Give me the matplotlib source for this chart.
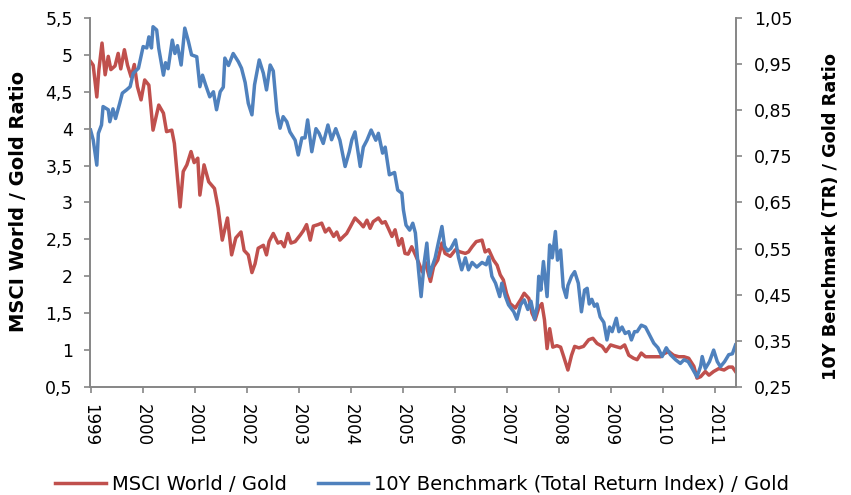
import numpy as np
import matplotlib
matplotlib.use("Agg")
import matplotlib.pyplot as plt

# MSCI World / Gold (left axis)
msci_t = [1999.00, 1999.05, 1999.12, 1999.16, 1999.22, 1999.28, 1999.34, 1999.39, 1999.47, 1999.53,
          1999.58, 1999.65, 1999.71, 1999.78, 1999.84, 1999.90, 1999.97, 2000.04, 2000.12, 2000.20,
          2000.27, 2000.31, 2000.40, 2000.46, 2000.56, 2000.61, 2000.72, 2000.78, 2000.85, 2000.93,
          2000.99, 2001.06, 2001.10, 2001.18, 2001.27, 2001.38, 2001.45, 2001.53, 2001.63, 2001.71,
          2001.79, 2001.89, 2001.95, 2002.03, 2002.10, 2002.16, 2002.22, 2002.32, 2002.38, 2002.43,
          2002.51, 2002.60, 2002.66, 2002.72, 2002.79, 2002.85, 2002.93, 2003.03, 2003.09, 2003.15,
          2003.22, 2003.28, 2003.37, 2003.44, 2003.51, 2003.58, 2003.67, 2003.73, 2003.79, 2003.86,
          2003.92, 2003.99, 2004.08, 2004.18, 2004.24, 2004.31, 2004.37, 2004.43, 2004.53, 2004.60,
          2004.66, 2004.72, 2004.79, 2004.85, 2004.92, 2004.98, 2005.04, 2005.10, 2005.17, 2005.24,
          2005.30, 2005.37, 2005.43, 2005.53, 2005.59, 2005.67, 2005.75, 2005.81, 2005.91, 2006.01,
          2006.10, 2006.20, 2006.26, 2006.33, 2006.41, 2006.52, 2006.58, 2006.65, 2006.74, 2006.81,
          2006.87, 2006.93, 2006.99, 2007.06, 2007.16, 2007.26, 2007.33, 2007.42, 2007.48, 2007.54,
          2007.61, 2007.67, 2007.72, 2007.77, 2007.82, 2007.88, 2007.96, 2008.03, 2008.09, 2008.17,
          2008.24, 2008.30, 2008.38, 2008.47, 2008.57, 2008.65, 2008.73, 2008.83, 2008.90, 2008.99,
          2009.08, 2009.18, 2009.26, 2009.34, 2009.43, 2009.50, 2009.58, 2009.66, 2009.76, 2009.85,
          2009.95, 2010.01, 2010.11, 2010.20, 2010.30, 2010.40, 2010.49, 2010.59, 2010.65, 2010.72,
          2010.81, 2010.88, 2010.97, 2011.07, 2011.17, 2011.26, 2011.33, 2011.39]
msci_v = [4.91, 4.86, 4.43, 4.80, 5.16, 4.73, 4.98, 4.80, 4.85, 5.02,
          4.81, 5.07, 4.86, 4.70, 4.87, 4.57, 4.39, 4.66, 4.59, 3.98,
          4.20, 4.32, 4.21, 3.96, 3.98, 3.80, 2.94, 3.42, 3.51, 3.69,
          3.54, 3.60, 3.10, 3.51, 3.28, 3.19, 2.93, 2.49, 2.79, 2.29,
          2.52, 2.60, 2.35, 2.29, 2.05, 2.17, 2.38, 2.42, 2.29, 2.47,
          2.58, 2.45, 2.47, 2.40, 2.58, 2.45, 2.47, 2.56, 2.62, 2.70,
          2.49, 2.68, 2.70, 2.72, 2.60, 2.65, 2.54, 2.60, 2.49, 2.54,
          2.58, 2.67, 2.79, 2.72, 2.67, 2.76, 2.65, 2.74, 2.79, 2.72,
          2.74, 2.65, 2.54, 2.63, 2.42, 2.51, 2.31, 2.30, 2.40, 2.29,
          2.19, 2.06, 2.19, 1.93, 2.13, 2.22, 2.45, 2.31, 2.27, 2.36,
          2.33, 2.31, 2.33, 2.40, 2.47, 2.49, 2.33, 2.36, 2.22, 2.15,
          2.02, 1.95, 1.77, 1.63, 1.57, 1.68, 1.77, 1.70, 1.50, 1.41,
          1.57, 1.63, 1.41, 1.02, 1.29, 1.04, 1.06, 1.04, 0.91, 0.73,
          0.93, 1.05, 1.03, 1.05, 1.14, 1.16, 1.09, 1.05, 0.98, 1.07,
          1.05, 1.03, 1.07, 0.93, 0.89, 0.87, 0.96, 0.91, 0.91, 0.91,
          0.91, 0.95, 0.98, 0.93, 0.91, 0.91, 0.89, 0.78, 0.62, 0.64,
          0.71, 0.66, 0.71, 0.75, 0.73, 0.77, 0.77, 0.71]

# 10Y Benchmark (TR) / Gold (right axis)
bench_t = [1999.00, 1999.05, 1999.12, 1999.15, 1999.21, 1999.24, 1999.34, 1999.37, 1999.43, 1999.48,
           1999.56, 1999.61, 1999.69, 1999.76, 1999.82, 1999.92, 2000.01, 2000.08, 2000.12, 2000.17,
           2000.20, 2000.27, 2000.31, 2000.40, 2000.44, 2000.49, 2000.57, 2000.62, 2000.67, 2000.74,
           2000.81, 2000.88, 2000.94, 2001.04, 2001.10, 2001.15, 2001.21, 2001.29, 2001.36, 2001.42,
           2001.49, 2001.55, 2001.58, 2001.65, 2001.74, 2001.84, 2001.90, 2001.97, 2002.03, 2002.10,
           2002.15, 2002.24, 2002.32, 2002.38, 2002.45, 2002.51, 2002.58, 2002.64, 2002.70, 2002.77,
           2002.83, 2002.93, 2002.99, 2003.06, 2003.12, 2003.17, 2003.25, 2003.33, 2003.39, 2003.47,
           2003.56, 2003.63, 2003.71, 2003.79, 2003.89, 2003.97, 2004.02, 2004.08, 2004.18, 2004.24,
           2004.31, 2004.39, 2004.48, 2004.53, 2004.61, 2004.66, 2004.74, 2004.84, 2004.90, 2004.98,
           2005.01, 2005.06, 2005.13, 2005.19, 2005.24, 2005.30, 2005.35, 2005.41, 2005.46, 2005.51,
           2005.56, 2005.62, 2005.68, 2005.75, 2005.80, 2005.86, 2005.92, 2006.01, 2006.07, 2006.13,
           2006.20, 2006.26, 2006.33, 2006.42, 2006.52, 2006.60, 2006.65, 2006.71, 2006.78, 2006.86,
           2006.90, 2006.97, 2007.03, 2007.13, 2007.19, 2007.26, 2007.33, 2007.40, 2007.46, 2007.53,
           2007.58, 2007.61, 2007.65, 2007.70, 2007.77, 2007.82, 2007.87, 2007.93, 2007.97, 2008.03,
           2008.08, 2008.14, 2008.17, 2008.24, 2008.30, 2008.37, 2008.43, 2008.49, 2008.54, 2008.58,
           2008.63, 2008.68, 2008.73, 2008.79, 2008.86, 2008.92, 2008.97, 2009.02, 2009.10, 2009.15,
           2009.21, 2009.27, 2009.34, 2009.39, 2009.45, 2009.50, 2009.58, 2009.66, 2009.76, 2009.82,
           2009.90, 2009.98, 2010.06, 2010.14, 2010.24, 2010.33, 2010.40, 2010.48, 2010.56, 2010.65,
           2010.72, 2010.75, 2010.81, 2010.89, 2010.97, 2011.04, 2011.10, 2011.18, 2011.26, 2011.33,
           2011.39]
bench_v = [0.807, 0.786, 0.731, 0.800, 0.818, 0.858, 0.851, 0.825, 0.853, 0.832,
           0.865, 0.887, 0.894, 0.901, 0.930, 0.941, 0.988, 0.985, 1.009, 0.985,
           1.031, 1.024, 0.984, 0.926, 0.953, 0.940, 1.002, 0.973, 0.990, 0.948,
           1.028, 0.999, 0.970, 0.966, 0.901, 0.926, 0.905, 0.879, 0.890, 0.851,
           0.890, 0.900, 0.963, 0.947, 0.973, 0.955, 0.941, 0.910, 0.865, 0.840,
           0.905, 0.959, 0.930, 0.894, 0.948, 0.935, 0.847, 0.811, 0.836, 0.825,
           0.803, 0.785, 0.753, 0.790, 0.790, 0.829, 0.760, 0.810, 0.800, 0.778,
           0.818, 0.786, 0.810, 0.785, 0.728, 0.760, 0.786, 0.803, 0.728, 0.770,
           0.785, 0.807, 0.785, 0.800, 0.757, 0.770, 0.710, 0.715, 0.677, 0.670,
           0.634, 0.601, 0.590, 0.605, 0.584, 0.504, 0.446, 0.520, 0.562, 0.490,
           0.510, 0.530, 0.562, 0.598, 0.555, 0.545, 0.550, 0.569, 0.530, 0.504,
           0.530, 0.504, 0.520, 0.510, 0.520, 0.515, 0.532, 0.490, 0.475, 0.446,
           0.475, 0.446, 0.428, 0.413, 0.397, 0.428, 0.439, 0.418, 0.436, 0.397,
           0.425, 0.490, 0.460, 0.522, 0.446, 0.558, 0.530, 0.587, 0.525, 0.547,
           0.467, 0.444, 0.470, 0.490, 0.500, 0.475, 0.413, 0.460, 0.464, 0.430,
           0.440, 0.425, 0.430, 0.402, 0.390, 0.352, 0.380, 0.370, 0.399, 0.370,
           0.380, 0.366, 0.370, 0.352, 0.370, 0.370, 0.384, 0.380, 0.358, 0.345,
           0.335, 0.316, 0.335, 0.320, 0.309, 0.301, 0.309, 0.305, 0.290, 0.272,
           0.295, 0.316, 0.290, 0.305, 0.330, 0.305, 0.294, 0.305, 0.320, 0.322,
           0.341]

years = list(range(1999, 2012))
left_ticks = [0.5, 1, 1.5, 2, 2.5, 3, 3.5, 4, 4.5, 5, 5.5]
right_ticks = [0.25, 0.35, 0.45, 0.55, 0.65, 0.75, 0.85, 0.95, 1.05]

red = "#C0504D"
blue = "#4F81BD"
grey = "#868686"


def comma(v, nd):
    # German style decimal comma
    return f"{v:.{nd}f}".replace(".", ",")


fig = plt.figure(figsize=(8.51, 4.95), dpi=100)
ax = fig.add_axes([0.1052, 0.2182, 0.7597, 0.7455])
ax2 = ax.twinx()

l1, = ax.plot(msci_t, msci_v, color=red, lw=2.5, label="MSCI World / Gold")
l2, = ax2.plot(bench_t, bench_v, color=blue, lw=2.5,
               label="10Y Benchmark (Total Return Index) / Gold")

ax.set_xlim(1998.98, 2011.40)
ax.set_ylim(0.5, 5.5)
ax2.set_ylim(0.25, 1.05)

ax.set_xticks(years)
ax.set_xticklabels([str(y) for y in years], rotation=-90, fontsize=12)
ax.set_yticks(left_ticks)
ax.set_yticklabels([comma(v, 1) if v != int(v) else str(int(v)) for v in left_ticks],
                   fontsize=12.5)
ax2.set_yticks(right_ticks)
ax2.set_yticklabels([comma(v, 2) for v in right_ticks], fontsize=12.5)

for a in (ax, ax2):
    a.spines["top"].set_visible(False)
    for s in ("left", "right", "bottom"):
        a.spines[s].set_color(grey)
        a.spines[s].set_linewidth(1.2)
    a.tick_params(colors=grey, length=4, width=1.2, labelcolor="black")
ax.tick_params(axis="y", pad=8)
ax2.tick_params(axis="y", pad=9)
ax.tick_params(axis="x", pad=8)

fig.text(19 / 851, 1 - 201 / 495, "MSCI World / Gold Ratio", rotation=90, ha="center",
         va="center", fontsize=14, fontweight="bold")
fig.text(831 / 851, 1 - 217 / 495, "10Y Benchmark (TR) / Gold Ratio", rotation=90,
         ha="center", va="center", fontsize=12.8, fontweight="bold")

fig.legend(handles=[l1, l2], loc="center", bbox_to_anchor=(0.496, 0.022), ncol=2,
           frameon=False, fontsize=14, handlelength=2.6, handletextpad=0.3,
           columnspacing=1.6)

fig.savefig("out.png", dpi=100)
